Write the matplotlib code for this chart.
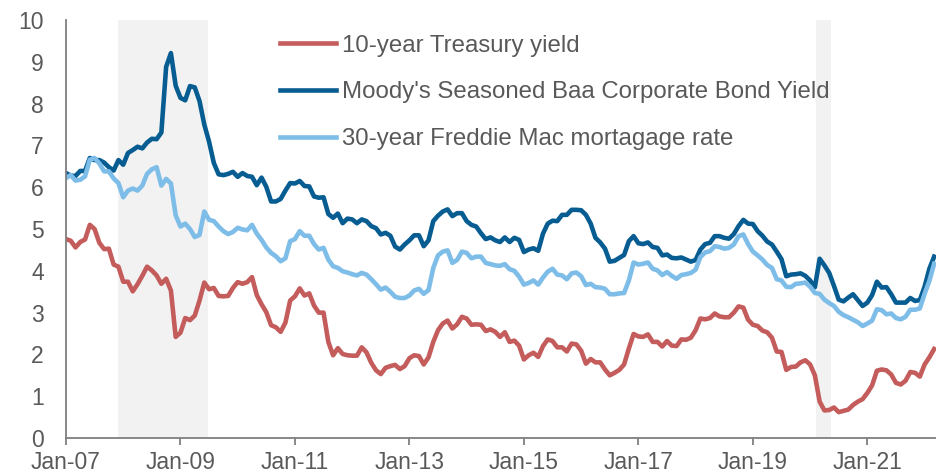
import matplotlib
matplotlib.use("Agg")
import matplotlib.pyplot as plt
import numpy as np

plt.rcParams["font.family"] = ["Liberation Sans", "DejaVu Sans"]

# monthly data, Jan-2007 .. Mar-2022
treasury_10y = [
    4.76, 4.72, 4.56, 4.69, 4.75, 5.10, 5.00, 4.67, 4.52, 4.53, 4.15, 4.10,
    3.74, 3.74, 3.51, 3.68, 3.88, 4.10, 4.01, 3.89, 3.69, 3.81, 3.53, 2.42,
    2.52, 2.87, 2.82, 2.93, 3.29, 3.72, 3.56, 3.59, 3.40, 3.39, 3.40, 3.59,
    3.73, 3.69, 3.73, 3.85, 3.42, 3.20, 3.01, 2.70, 2.65, 2.54, 2.76, 3.29,
    3.39, 3.58, 3.41, 3.46, 3.17, 3.00, 3.00, 2.30, 1.98, 2.15, 2.01, 1.98,
    1.97, 1.97, 2.17, 2.05, 1.80, 1.62, 1.53, 1.68, 1.72, 1.75, 1.65, 1.72,
    1.91, 1.98, 1.96, 1.76, 1.93, 2.30, 2.58, 2.74, 2.81, 2.62, 2.72, 2.90,
    2.86, 2.71, 2.72, 2.71, 2.56, 2.60, 2.54, 2.42, 2.53, 2.30, 2.33, 2.21,
    1.88, 1.98, 2.04, 1.94, 2.20, 2.36, 2.32, 2.17, 2.17, 2.07, 2.26, 2.24,
    2.09, 1.78, 1.89, 1.81, 1.81, 1.64, 1.50, 1.56, 1.63, 1.76, 2.14, 2.49,
    2.43, 2.42, 2.48, 2.30, 2.30, 2.19, 2.32, 2.21, 2.20, 2.36, 2.35, 2.40,
    2.58, 2.86, 2.84, 2.87, 2.98, 2.91, 2.89, 2.89, 3.00, 3.15, 3.12, 2.83,
    2.71, 2.68, 2.57, 2.53, 2.40, 2.07, 2.06, 1.63, 1.70, 1.71, 1.81, 1.86,
    1.76, 1.50, 0.87, 0.66, 0.67, 0.73, 0.62, 0.65, 0.68, 0.79, 0.87, 0.93,
    1.08, 1.26, 1.61, 1.64, 1.62, 1.52, 1.32, 1.28, 1.37, 1.58, 1.56, 1.47,
    1.76, 1.93, 2.13,
]
baa_yield = [
    6.34, 6.28, 6.27, 6.39, 6.39, 6.70, 6.65, 6.65, 6.59, 6.48, 6.40, 6.65,
    6.54, 6.82, 6.89, 6.97, 6.93, 7.07, 7.16, 7.15, 7.31, 8.88, 9.21, 8.43,
    8.14, 8.08, 8.42, 8.39, 8.06, 7.50, 7.09, 6.58, 6.31, 6.29, 6.32, 6.37,
    6.25, 6.34, 6.27, 6.25, 6.05, 6.23, 6.01, 5.66, 5.66, 5.72, 5.92, 6.10,
    6.09, 6.15, 6.03, 6.02, 5.78, 5.75, 5.76, 5.36, 5.27, 5.37, 5.14, 5.25,
    5.23, 5.14, 5.23, 5.19, 5.07, 5.02, 4.87, 4.91, 4.84, 4.58, 4.51, 4.63,
    4.73, 4.85, 4.85, 4.59, 4.73, 5.19, 5.32, 5.42, 5.47, 5.31, 5.38, 5.38,
    5.19, 5.10, 5.06, 4.90, 4.76, 4.80, 4.73, 4.69, 4.80, 4.69, 4.79, 4.74,
    4.45, 4.51, 4.54, 4.48, 4.89, 5.13, 5.20, 5.19, 5.34, 5.34, 5.46, 5.46,
    5.45, 5.34, 5.13, 4.79, 4.68, 4.53, 4.22, 4.24, 4.31, 4.38, 4.71, 4.83,
    4.66, 4.64, 4.68, 4.57, 4.55, 4.37, 4.39, 4.31, 4.30, 4.32, 4.27, 4.22,
    4.26, 4.51, 4.64, 4.67, 4.83, 4.83, 4.79, 4.77, 4.88, 5.07, 5.22, 5.13,
    5.12, 4.95, 4.84, 4.70, 4.63, 4.46, 4.28, 3.87, 3.91, 3.92, 3.94, 3.88,
    3.77, 3.61, 4.29, 4.13, 3.95, 3.64, 3.31, 3.27, 3.36, 3.44, 3.30, 3.16,
    3.24, 3.42, 3.74, 3.60, 3.61, 3.44, 3.24, 3.24, 3.24, 3.35, 3.28, 3.30,
    3.62, 4.05, 4.34,
]
mortgage_30y = [
    6.22, 6.29, 6.16, 6.18, 6.26, 6.66, 6.70, 6.57, 6.38, 6.38, 6.21, 6.10,
    5.76, 5.92, 5.97, 5.92, 6.04, 6.32, 6.43, 6.48, 6.04, 6.20, 6.09, 5.33,
    5.06, 5.13, 5.00, 4.81, 4.86, 5.42, 5.22, 5.19, 5.06, 4.95, 4.88, 4.93,
    5.03, 4.99, 4.97, 5.10, 4.89, 4.74, 4.56, 4.43, 4.35, 4.23, 4.30, 4.71,
    4.76, 4.95, 4.84, 4.84, 4.64, 4.51, 4.55, 4.27, 4.11, 4.07, 3.99, 3.96,
    3.92, 3.89, 3.95, 3.91, 3.80, 3.68, 3.55, 3.60, 3.50, 3.38, 3.35, 3.35,
    3.41, 3.53, 3.57, 3.45, 3.54, 4.07, 4.37, 4.46, 4.49, 4.19, 4.26, 4.46,
    4.43, 4.30, 4.34, 4.34, 4.19, 4.16, 4.13, 4.12, 4.16, 4.04, 4.00, 3.86,
    3.67, 3.71, 3.77, 3.67, 3.84, 3.98, 4.05, 3.91, 3.89, 3.80, 3.94, 3.96,
    3.87, 3.66, 3.69, 3.61, 3.60, 3.57, 3.44, 3.44, 3.46, 3.47, 3.77, 4.20,
    4.15, 4.17, 4.20, 4.05, 4.01, 3.90, 3.97, 3.88, 3.81, 3.90, 3.92, 3.95,
    4.03, 4.33, 4.44, 4.47, 4.59, 4.57, 4.53, 4.55, 4.63, 4.83, 4.87, 4.64,
    4.46, 4.37, 4.27, 4.14, 4.07, 3.80, 3.77, 3.62, 3.61, 3.69, 3.70, 3.72,
    3.62, 3.47, 3.45, 3.31, 3.23, 3.16, 3.02, 2.94, 2.89, 2.83, 2.77, 2.68,
    2.74, 2.81, 3.08, 3.06, 2.96, 2.98, 2.87, 2.84, 2.90, 3.07, 3.07, 3.10,
    3.45, 3.76, 4.17,
]
tick_labels = ["Jan-07", "Jan-09", "Jan-11", "Jan-13", "Jan-15", "Jan-17", "Jan-19", "Jan-21"]
# recessions as month offsets from Jan-07 (Dec-07..Jun-09, Feb-20..Apr-20)
recessions = [(11, 29.8), (157.3, 160.3)]

months = np.arange(len(treasury_10y))

fig = plt.figure(figsize=(9.37, 4.76), dpi=100)
ax = fig.add_axes([0.0704, 0.0798, 0.9296, 0.878])

for start, end in recessions:
    ax.axvspan(start, end, color="#f2f2f2", lw=0, zorder=0)

ax.plot(months, treasury_10y, color="#c45c5c", lw=3.3, label="10-year Treasury yield")
ax.plot(months, baa_yield, color="#075d92", lw=3.3, label="Moody's Seasoned Baa Corporate Bond Yield")
ax.plot(months, mortgage_30y, color="#7dbde8", lw=3.3, label="30-year Freddie Mac mortagage rate")

ax.set_xlim(0, 182.6)
ax.set_ylim(0, 10)
ax.set_yticks(range(0, 11))
ax.set_xticks(range(0, 169, 24))
ax.set_xticklabels(tick_labels)

gray = "#595959"
for s in ["top", "right"]:
    ax.spines[s].set_visible(False)
for s in ["left", "bottom"]:
    ax.spines[s].set_color("#7f7f7f")
    ax.spines[s].set_linewidth(1.3)
ax.tick_params(axis="y", length=0, pad=16, labelsize=16.5, labelcolor=gray)
ax.tick_params(axis="x", length=5, width=1.3, color="#7f7f7f", pad=4, labelsize=16.5, labelcolor=gray)

leg = ax.legend(loc="upper left", bbox_to_anchor=(0.235, 0.988), frameon=False,
                fontsize=17.3, handlelength=2.3, handletextpad=0.25, labelspacing=1.03,
                borderaxespad=0)
for t in leg.get_texts():
    t.set_color(gray)

fig.savefig("out.png", dpi=100)
